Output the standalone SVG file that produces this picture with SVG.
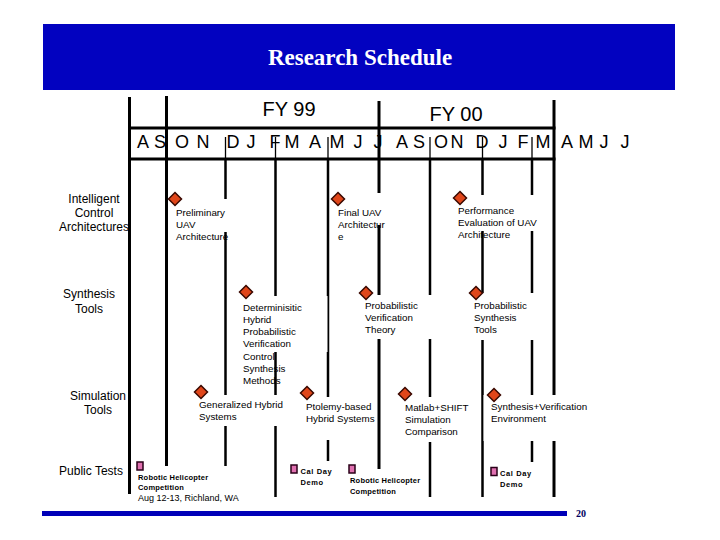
<svg xmlns="http://www.w3.org/2000/svg" width="720" height="540" viewBox="0 0 720 540">
<style>
.maj{stroke:#000;stroke-width:3}
.min{stroke:#000;stroke-width:2.5}
.thin{stroke:#000;stroke-width:1.3}
.box{fill:#fff}
.row{font-family:"Liberation Sans",Arial,sans-serif;font-size:12px;fill:#000;text-anchor:middle}
.lbl{font-family:"Liberation Sans",Arial,sans-serif;font-size:9.8px;fill:#000}
.pt{font-family:"Liberation Sans",Arial,sans-serif;font-size:7.5px;font-weight:bold;fill:#000;letter-spacing:0.2px}
.pt2{font-family:"Liberation Sans",Arial,sans-serif;font-size:9px;fill:#000}
.cal{letter-spacing:0.6px}
.mon{font-family:"Liberation Sans",Arial,sans-serif;font-size:18px;fill:#000;text-anchor:middle}
.fy{font-family:"Liberation Sans",Arial,sans-serif;font-size:20px;fill:#000;text-anchor:middle}
</style>
<defs>
<path id="dia" d="M0,-6.5 L6.5,0 L0,6.5 L-6.5,0Z" fill="#e0461a" stroke="#3a0800" stroke-width="1.5"/>
<rect id="sq" x="-3" y="-4" width="6" height="8" fill="#e070b0" stroke="#2a0018" stroke-width="1.5"/>
</defs>
<rect width="720" height="540" fill="#fff"/>
<g id="header">
<rect x="43" y="24" width="632" height="66" fill="#0202c0"/>
<text x="360" y="65" font-family="'Liberation Serif','Times New Roman',serif" font-size="23" font-weight="bold" fill="#fff" text-anchor="middle">Research Schedule</text>
</g>
<g id="grid">
<line class="maj" x1="129.5" y1="97" x2="129.5" y2="494"/>
<line class="maj" x1="166.5" y1="96" x2="166.5" y2="497"/>
<line class="maj" x1="379" y1="101" x2="379" y2="497"/>
<line class="maj" x1="554" y1="100" x2="554" y2="497"/>
<line class="thin" x1="225.5" y1="137" x2="225.5" y2="160"/>
<line class="thin" x1="275.5" y1="137" x2="275.5" y2="160"/>
<line class="thin" x1="328" y1="137" x2="328" y2="160"/>
<line class="thin" x1="430" y1="137" x2="430" y2="160"/>
<line class="thin" x1="482.5" y1="137" x2="482.5" y2="160"/>
<line class="thin" x1="532" y1="137" x2="532" y2="160"/>
<line class="min" x1="225.5" y1="160" x2="225.5" y2="497"/>
<line class="min" x1="275.5" y1="160" x2="275.5" y2="497"/>
<line class="min" x1="328" y1="160" x2="328" y2="497"/>
<line class="min" x1="430" y1="160" x2="430" y2="497"/>
<line class="min" x1="482.5" y1="160" x2="482.5" y2="497"/>
<line class="min" x1="532" y1="160" x2="532" y2="497"/>
<line class="maj" x1="128" y1="128" x2="555.5" y2="128"/>
<line class="maj" x1="128" y1="159" x2="555.5" y2="159"/>
<text class="fy" x="289" y="116">FY 99</text>
<text class="fy" x="456" y="121">FY 00</text>
<text class="mon" x="143 151 160 171 182 192 203 218 233 242 251 263 275 283 292 303 315 326 337 347 358 368 378 390 402 410 419 430 441 449 457 470 482 492 503 513 523 533 543 555 567 576 586 595 604 614 625" y="148">A S O N D J F M A M J J A S O N D J F M A M J J</text>
</g>
<g id="rows">
<text class="row" x="94" y="203">Intelligent</text>
<text class="row" x="94" y="217">Control</text>
<text class="row" x="94" y="231">Architectures</text>
<text class="row" x="89" y="298">Synthesis</text>
<text class="row" x="89" y="313">Tools</text>
<text class="row" x="98" y="400">Simulation</text>
<text class="row" x="98" y="414">Tools</text>
<text class="row" x="91" y="475">Public Tests</text>
</g>
<g id="m-preliminary">
<rect class="box" x="170" y="199" width="62" height="33"/>
<use href="#dia" x="175" y="199"/>
<text class="lbl" x="176" y="216">Preliminary</text>
<text class="lbl" x="176" y="228">UAV</text>
<text class="lbl" x="176" y="240">Architecture</text>
</g>
<g id="m-final">
<rect class="box" x="334" y="193" width="52" height="32"/>
<use href="#dia" x="338" y="199"/>
<text class="lbl" x="338" y="216">Final UAV</text>
<text class="lbl" x="338" y="228">Architectur</text>
<text class="lbl" x="338" y="240">e</text>
</g>
<g id="m-performance">
<rect class="box" x="455" y="195" width="96" height="36"/>
<use href="#dia" x="460" y="198"/>
<text class="lbl" x="458" y="214">Performance</text>
<text class="lbl" x="458" y="226">Evaluation of UAV</text>
<text class="lbl" x="458" y="238">Architecture</text>
</g>
<g id="m-deterministic">
<rect class="box" x="238" y="296" width="89.5" height="56"/>
<use href="#dia" x="246" y="292"/>
<text class="lbl" x="243" y="310.5">Determinisitic</text>
<text class="lbl" x="243" y="322.5">Hybrid</text>
<text class="lbl" x="243" y="335">Probabilistic</text>
<text class="lbl" x="243" y="347">Verification</text>
<text class="lbl" x="243" y="359.5">Control</text>
<text class="lbl" x="243" y="371.5">Synthesis</text>
<text class="lbl" x="243" y="383.5">Methods</text>
</g>
<g id="m-probverif">
<rect class="box" x="360" y="295" width="73" height="44"/>
<use href="#dia" x="366" y="293"/>
<text class="lbl" x="365" y="309">Probabilistic</text>
<text class="lbl" x="365" y="321">Verification</text>
<text class="lbl" x="365" y="333">Theory</text>
</g>
<g id="m-probsynth">
<rect class="box" x="470" y="293" width="72" height="47"/>
<use href="#dia" x="476" y="293"/>
<text class="lbl" x="474" y="309">Probabilistic</text>
<text class="lbl" x="474" y="321">Synthesis</text>
<text class="lbl" x="474" y="333">Tools</text>
</g>
<g id="m-generalized">
<rect class="box" x="196" y="395" width="96" height="31"/>
<use href="#dia" x="201" y="392"/>
<text class="lbl" x="199" y="408">Generalized Hybrid</text>
<text class="lbl" x="199" y="420">Systems</text>
</g>
<g id="m-ptolemy">
<rect class="box" x="302" y="397" width="75" height="43"/>
<use href="#dia" x="307" y="393"/>
<text class="lbl" x="306" y="410">Ptolemy-based</text>
<text class="lbl" x="306" y="422">Hybrid Systems</text>
</g>
<g id="m-matlab">
<rect class="box" x="400" y="397" width="70" height="45"/>
<use href="#dia" x="405" y="394"/>
<text class="lbl" x="405" y="411">Matlab+SHIFT</text>
<text class="lbl" x="405" y="423">Simulation</text>
<text class="lbl" x="405" y="435">Comparison</text>
</g>
<g id="m-synthverif">
<rect class="box" x="483.5" y="395" width="73" height="46"/>
<use href="#dia" x="494" y="395"/>
<text class="lbl" x="491" y="410">Synthesis+Verification</text>
<text class="lbl" x="491" y="422">Environment</text>
</g>
<g id="t-robotic1">
<rect class="box" x="134" y="466" width="106" height="40"/>
<use href="#sq" x="140" y="466"/>
<text class="pt" x="138" y="479.5">Robotic Helicopter</text>
<text class="pt" x="138" y="490">Competition</text>
<text class="pt2" x="138" y="501">Aug 12-13, Richland, WA</text>
</g>
<g id="t-calday1">
<rect class="box" x="289" y="461" width="45" height="38"/>
<use href="#sq" x="294" y="469"/>
<text class="pt cal" x="300.5" y="474">Cal Day</text>
<text class="pt cal" x="300.5" y="485">Demo</text>
</g>
<g id="t-robotic2">
<rect class="box" x="346" y="469" width="81" height="30"/>
<use href="#sq" x="352" y="469"/>
<text class="pt" x="350" y="483">Robotic Helicopter</text>
<text class="pt" x="350" y="494">Competition</text>
</g>
<g id="t-calday2">
<rect class="box" x="489" y="462" width="45" height="38"/>
<use href="#sq" x="494" y="471.5"/>
<text class="pt cal" x="500" y="476">Cal Day</text>
<text class="pt cal" x="500" y="487">Demo</text>
</g>
<g id="footer">
<rect x="42" y="511" width="525" height="5" fill="#0000b8"/>
<text x="581" y="516.5" font-family="'Liberation Serif','Times New Roman',serif" font-size="10" font-weight="bold" fill="#000060" text-anchor="middle">20</text>
</g>
</svg>
